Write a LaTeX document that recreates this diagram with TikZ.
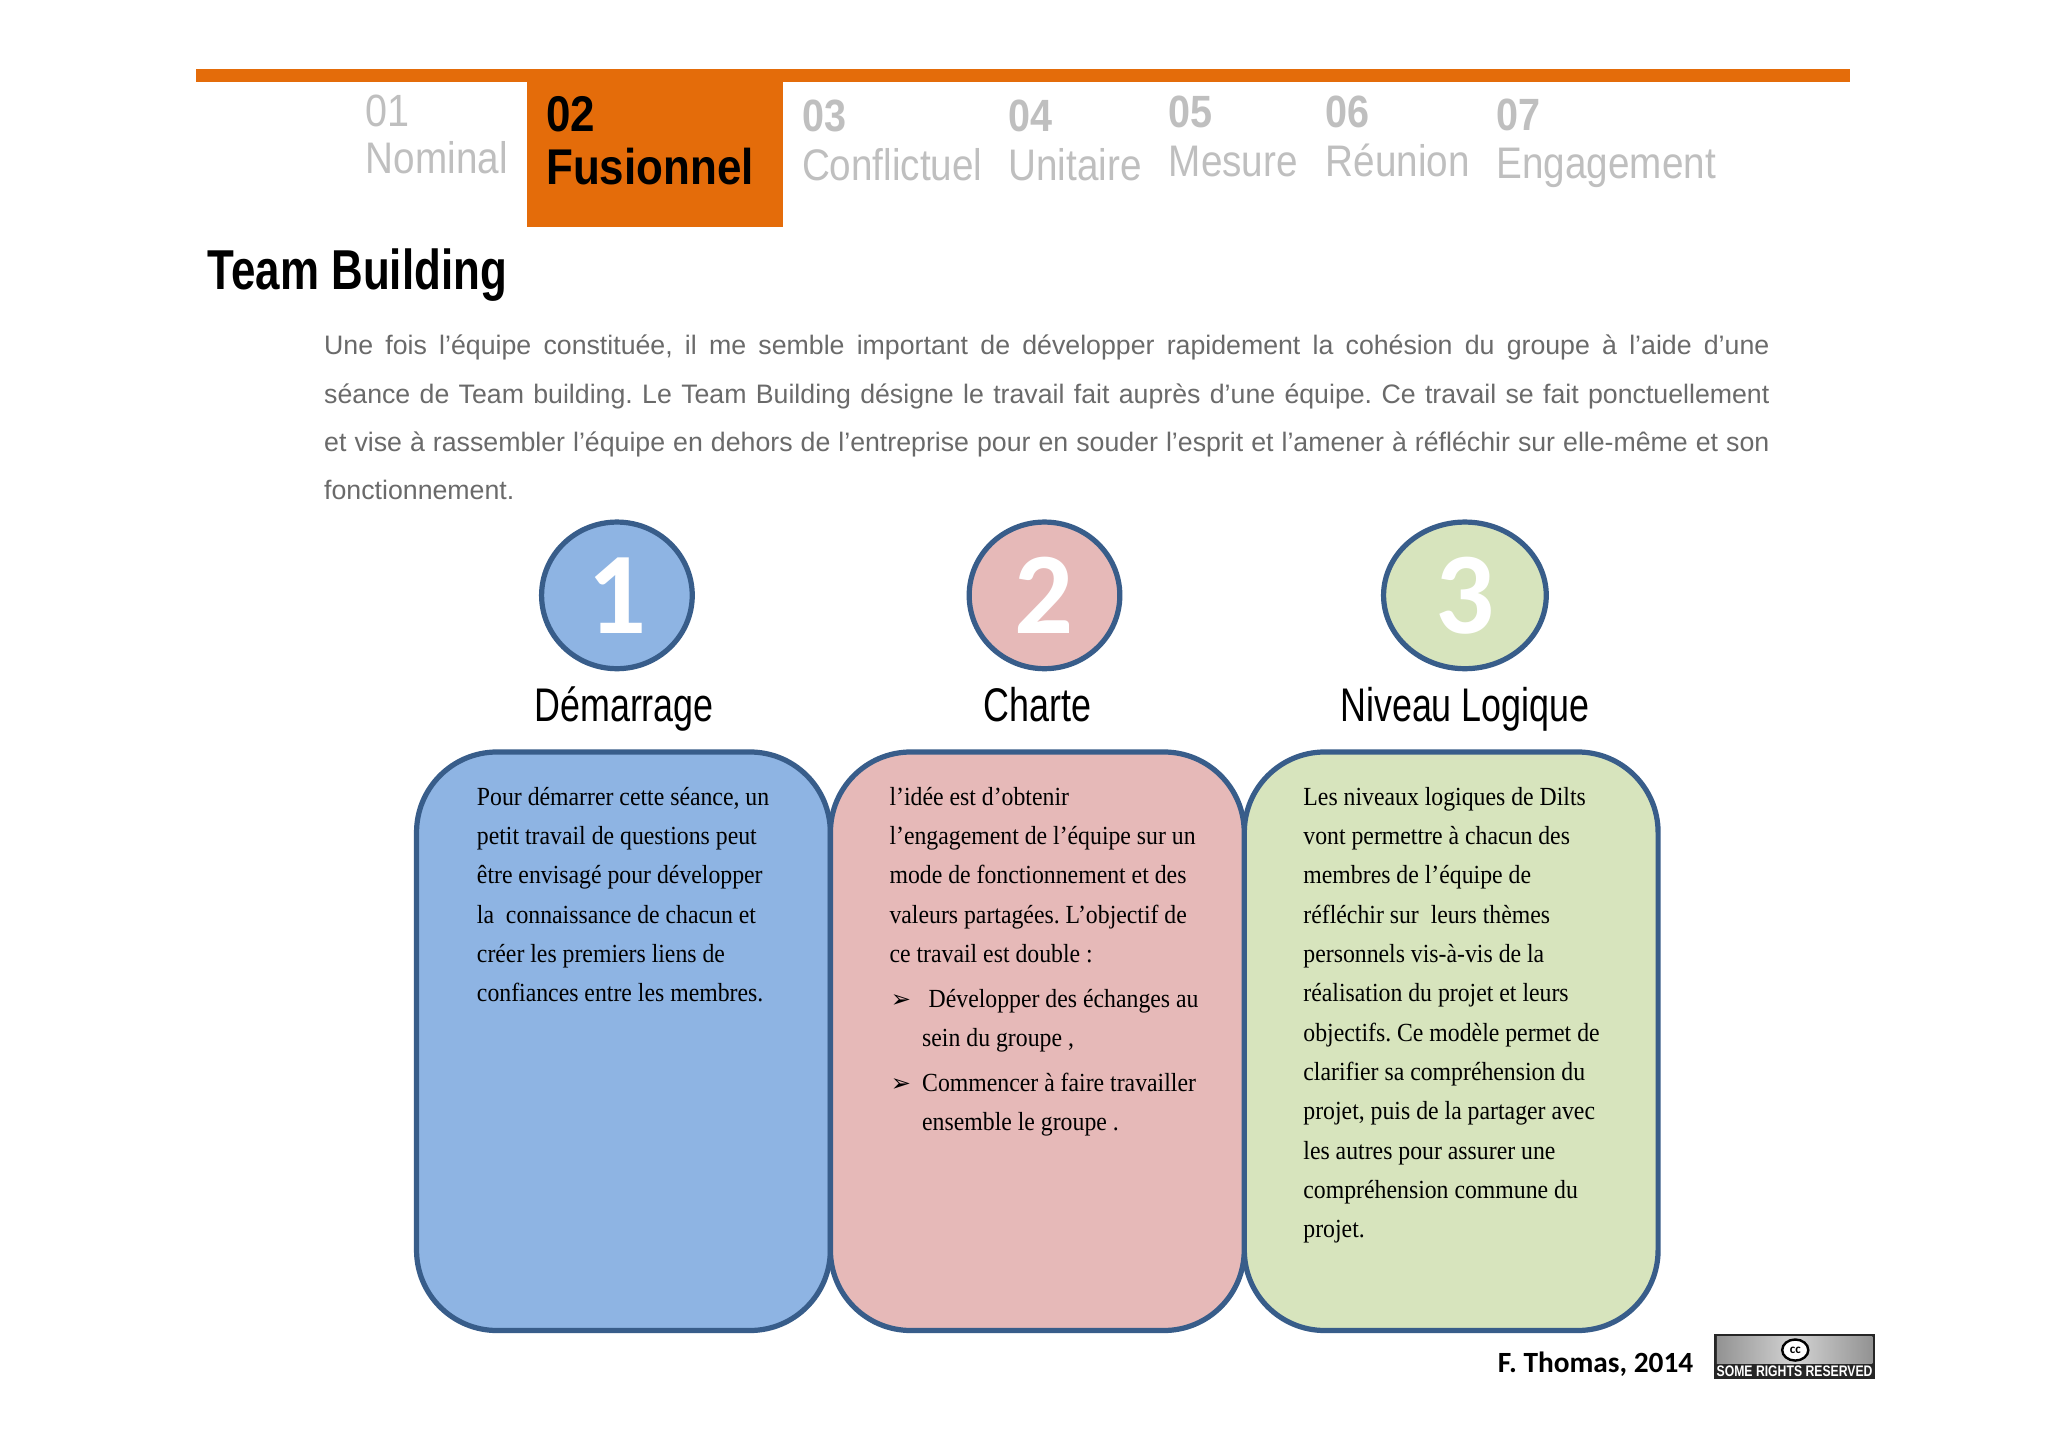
\documentclass[tikz,border=0pt]{standalone}
\usepackage{fontspec}
\setmainfont{Liberation Sans}
\newfontfamily\tabfam[FakeStretch=0.875]{Liberation Sans}
\newfontfamily\titlefam[FakeStretch=0.78]{Liberation Sans}
\newfontfamily\headfam[FakeStretch=0.76]{Liberation Sans}
\newfontfamily\bodyfam[FakeStretch=0.91]{Liberation Serif}
\newfontfamily\calfam{Carlito}
\newfontfamily\dingfam{DejaVu Sans}
\newfontfamily\badgefam[FakeStretch=0.80]{Liberation Sans}
\AtBeginDocument{\frenchspacing}
\definecolor{orangeb}{HTML}{E46C0A}
\definecolor{edgeb}{HTML}{385D8A}
\definecolor{blueb}{HTML}{8EB4E3}
\definecolor{pinkb}{HTML}{E6B9B8}
\definecolor{greenb}{HTML}{D7E4BD}
\definecolor{tabgray}{HTML}{BFBFBF}
\definecolor{paragray}{HTML}{6A6A6A}
\tikzset{
  tx/.style={inner sep=0pt,anchor=base west},
  tabnum/.style={tx,text=tabgray,font=\tabfam\bfseries\fontsize{22.5}{24}\selectfont},
  tabnumlight/.style={tx,text=tabgray,font=\tabfam\fontsize{22.5}{24}\selectfont},
  tablabel/.style={tx,text=tabgray,font=\tabfam\fontsize{22}{24}\selectfont},
  tabactive/.style={tx,text=black,font=\tabfam\bfseries\fontsize{25}{27}\selectfont},
  colbox/.style={draw=edgeb,line width=2.6pt,rounded corners=40pt,minimum width=206pt,minimum height=288pt,inner sep=0pt},
  numcirc/.style={draw=edgeb,line width=2.6pt,ellipse,inner sep=0pt,text=white,font=\calfam\bfseries\fontsize{58}{58}\selectfont},
  heading/.style={inner sep=0pt,anchor=base,text=black,font=\headfam\fontsize{23.5}{26}\selectfont},
  bodytext/.style={inner sep=0pt,anchor=north west,align=left,text=black,font=\bodyfam\fontsize{13}{19.58}\selectfont},
  bullet/.style={tx,text=black,font=\dingfam\fontsize{12}{12}\selectfont},
}
\usetikzlibrary{shapes.geometric}
\begin{document}
\begin{tikzpicture}[x=0.65pt,y=-0.65pt]
\useasboundingbox (0,0) rectangle (1568.6,1108.3);
\fill[white] (0,0) rectangle (1568.6,1108.3);
% top band and active tab
\fill[orangeb] (150,53) rectangle (1417,63);
\fill[orangeb] (404,53) rectangle (600,174);
\node[tabnumlight] (n1) at (280,97) {01};
\node[tablabel] (l1) at (280,133) {Nominal};
\node[tabactive] (n2) at (418,101) {02};
\node[tabactive] (l2) at (418,141) {Fusionnel};
\node[tabnum] (n3) at (614,101) {03};
\node[tablabel] (l3) at (614,138) {Conflictuel};
\node[tabnum] (n4) at (772,101) {04};
\node[tablabel] (l4) at (772,138) {Unitaire};
\node[tabnum] (n5) at (895,98) {05};
\node[tablabel] (l5) at (895,135) {Mesure};
\node[tabnum] (n6) at (1015,98) {06};
\node[tablabel] (l6) at (1015,135) {Réunion};
\node[tabnum] (n7) at (1146,100) {07};
\node[tablabel] (l7) at (1146,137) {Engagement};
% title
\node[tx,font=\titlefam\bfseries\fontsize{28}{30}\selectfont] (title) at (159,222) {Team Building};
% paragraph
\node[inner sep=0pt,anchor=north west,text width=719.55pt,align=justify,text=paragray,font=\fontsize{13.3}{24.05}\selectfont] (para) at (248,256.5)
{\hyphenpenalty=10000\relax
Une fois l’équipe constituée, il me semble important de développer rapidement la cohésion du groupe à l’aide d’une\linebreak
séance de Team building. Le Team Building désigne le travail fait auprès d’une équipe. Ce travail se fait ponctuellement\linebreak
et vise à rassembler l’équipe en dehors de l’entreprise pour en souder l’esprit et l’amener à réfléchir sur elle-même et son\linebreak
fonctionnement.};
% numbered circles
\node[numcirc,fill=blueb,minimum width=75pt,minimum height=73pt] (c1) at (472.5,456) {1};
\node[numcirc,fill=pinkb,minimum width=75pt,minimum height=73pt] (c2) at (800,456) {2};
\node[numcirc,fill=greenb,minimum width=81pt,minimum height=73pt] (c3) at (1122,456) {3};
% headings
\node[heading] (h1) at (478,552.5) {Démarrage};
\node[heading] (h2) at (794.5,552.5) {Charte};
\node[heading] (h3) at (1122,552.5) {Niveau Logique};
% boxes
\node[colbox,fill=blueb] (b1) at (477.5,797.5) {};
\node[colbox,fill=greenb] (b3) at (1111.5,797.5) {};
\node[colbox,fill=pinkb] (b2) at (794.5,797.5) {};
% box texts
\node[bodytext] (t1) at (365,602.5) {Pour démarrer cette séance, un\\petit travail de questions peut\\être envisagé pour développer\\la~ connaissance de chacun et\\créer les premiers liens de\\confiances entre les membres.};
\node[bodytext] (t2) at (681,602.5) {l’idée est d’obtenir\\l’engagement de l’équipe sur un\\mode de fonctionnement et des\\valeurs partagées. L’objectif de\\ce travail est double :};
\node[bullet] (a1) at (682,772) {➢};
\node[bodytext] (t2a) at (711,757.5) {Développer des échanges au};
\node[bodytext] (t2b) at (706,787.5) {sein du groupe ,};
\node[bullet] (a2) at (682,836) {➢};
\node[bodytext] (t2c) at (706,821.5) {Commencer à faire travailler\\ensemble le groupe .};
\node[bodytext] (t3) at (998,602.5) {Les niveaux logiques de Dilts\\vont permettre à chacun des\\membres de l’équipe de\\réfléchir sur~ leurs thèmes\\personnels vis-à-vis de la\\réalisation du projet et leurs\\objectifs. Ce modèle permet de\\clarifier sa compréhension du\\projet, puis de la partager avec\\les autres pour assurer une\\compréhension commune du\\projet.};
% credit
\node[tx,font=\calfam\bfseries\fontsize{14.6}{16}\selectfont] (credit) at (1147,1051) {F. Thomas, 2014};
% badge
\fill[black!85] (1313,1022) rectangle (1436,1056);
\shade[left color=gray!85,right color=gray!85,middle color=gray!35] (1315,1024) rectangle (1434,1044);
\node[draw=black,line width=1.2pt,fill=white,ellipse,minimum width=13pt,minimum height=10.5pt,inner sep=0pt,font=\calfam\bfseries\fontsize{6.5}{6.5}\selectfont] (cc) at (1375,1034) {cc};
\node[inner sep=0pt,anchor=base,text=white,font=\badgefam\bfseries\fontsize{7.6}{8}\selectfont] (rights) at (1374.5,1054) {SOME RIGHTS RESERVED};
\end{tikzpicture}
\end{document}
